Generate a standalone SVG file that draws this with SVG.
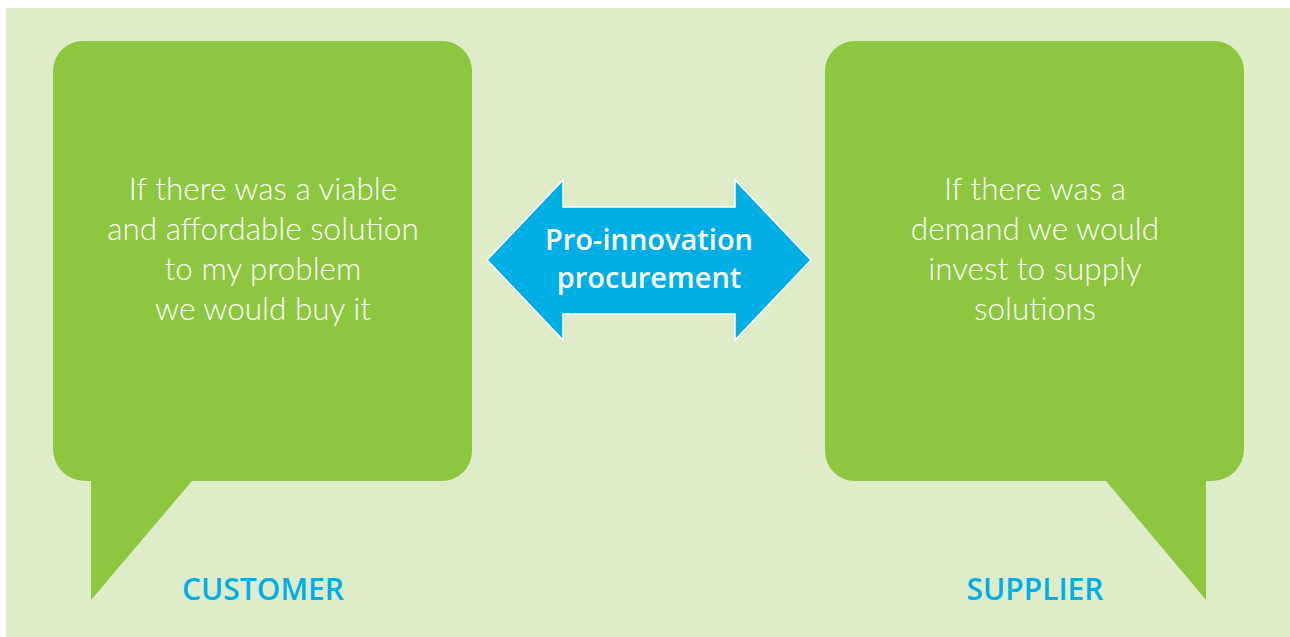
<svg xmlns="http://www.w3.org/2000/svg" width="1290" height="637" viewBox="0 0 1290 637">
  <style>
    .bubble { fill: #8dc63f; }
    .quote { font-family: Lato, "Open Sans", sans-serif; font-weight: 300; font-size: 31.5px; fill: #ffffff; text-anchor: middle; }
    .role { font-family: "Open Sans", "Liberation Sans", sans-serif; font-weight: 600; font-size: 30px; fill: #00aee6; text-anchor: middle; }
    .arrow-label { font-family: "Open Sans", "Liberation Sans", sans-serif; font-weight: 600; font-size: 29px; fill: #ffffff; text-anchor: middle; }
  </style>
  <rect x="6" y="8" width="1284" height="629" fill="#dfecca"/>

  <g id="customer">
    <path class="bubble" d="M83 41 H442 A30 30 0 0 1 472 71 V451 A30 30 0 0 1 442 481 H192 L91 600 V481 H85 A32 32 0 0 1 53 449 V71 A30 30 0 0 1 83 41 Z"/>
    <text class="quote" x="263" y="200">If there was a viable</text>
    <text class="quote" x="263" y="240">and affordable solution</text>
    <text class="quote" x="263" y="280">to my problem</text>
    <text class="quote" x="263" y="320">we would buy it</text>
    <text class="role" x="263" y="600">CUSTOMER</text>
  </g>

  <g id="supplier">
    <path class="bubble" d="M855 41 H1214 A30 30 0 0 1 1244 71 V449 A32 32 0 0 1 1212 481 H1206 V600 L1106 481 H855 A30 30 0 0 1 825 451 V71 A30 30 0 0 1 855 41 Z"/>
    <text class="quote" x="1035" y="200">If there was a</text>
    <text class="quote" x="1035" y="240">demand we would</text>
    <text class="quote" x="1035" y="280">invest to supply</text>
    <text class="quote" x="1035" y="320">solutions</text>
    <text class="role" x="1035" y="600">SUPPLIER</text>
  </g>

  <g id="connectors">
    <g id="pro-innovation-procurement">
      <polygon points="487,260 563,180 563,207 735,207 735,180 811,260 735,340 735,314 563,314 563,340" fill="#00aee6" stroke="#ffffff" stroke-width="1.5" stroke-linejoin="miter"/>
      <text class="arrow-label" x="649" y="250">Pro-innovation</text>
      <text class="arrow-label" x="649" y="288">procurement</text>
    </g>
  </g>
</svg>
